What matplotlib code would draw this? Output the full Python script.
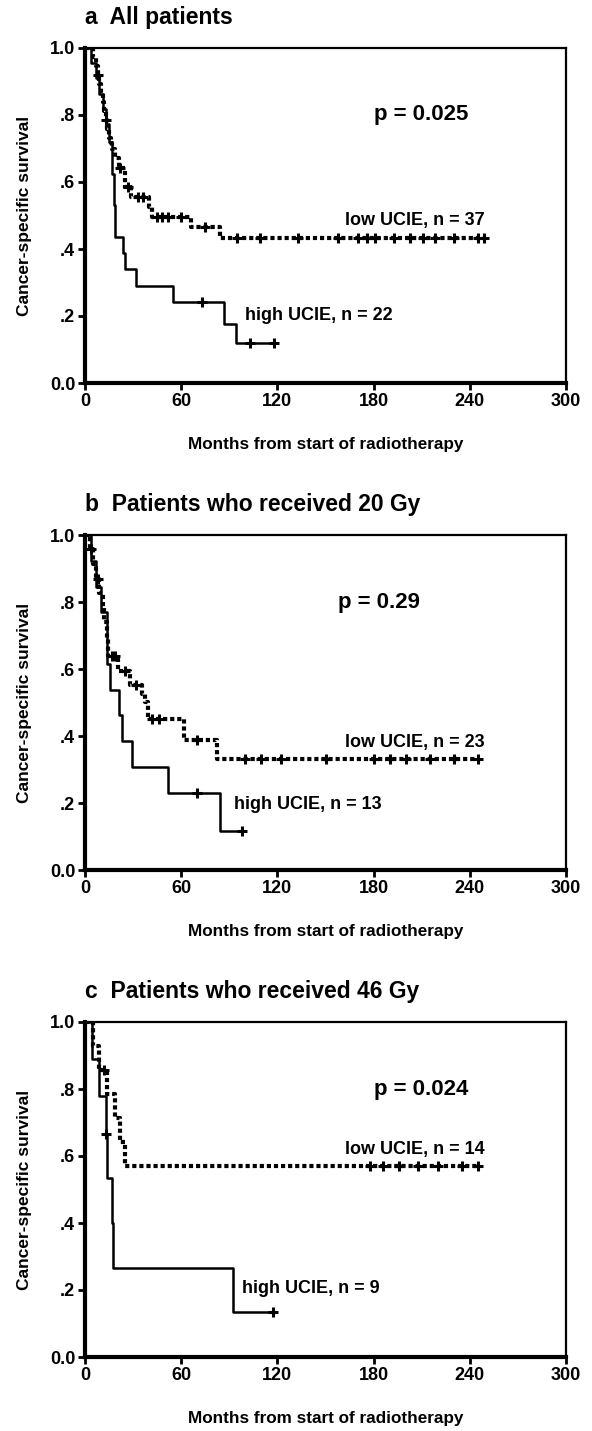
import numpy as np
import matplotlib.pyplot as plt

plt.rcParams['font.family'] = ['Liberation Sans', 'DejaVu Sans']
plt.rcParams['font.weight'] = 'bold'

# a  All patients
a_low_t = [0, 5, 7, 8, 9, 10, 11, 12, 13, 14, 15, 16, 17, 19, 21, 25, 29, 40, 42, 66, 84, 249]
a_low_s = [1.0, 0.973, 0.946, 0.919, 0.892, 0.865, 0.838, 0.811, 0.784, 0.757, 0.73, 0.715,
           0.699, 0.672, 0.643, 0.586, 0.556, 0.526, 0.497, 0.467, 0.432, 0.432]
a_low_cens = [8, 13, 22, 27, 33, 36, 45, 48, 52, 60, 75, 95, 109, 133, 158, 170, 176, 181,
              193, 203, 211, 218, 230, 245, 249]
a_high_t = [0, 4, 7, 9, 11, 13, 15, 17, 18, 18.75, 23.4, 25, 32, 55, 87, 94, 118]
a_high_s = [1.0, 0.955, 0.909, 0.864, 0.818, 0.773, 0.72, 0.625, 0.53, 0.437, 0.388, 0.34,
            0.291, 0.241, 0.177, 0.12, 0.12]
a_high_cens = [73, 103, 118]

# b  Patients who received 20 Gy
b_low_t = [0, 3, 5, 7, 9, 11, 12, 13.5, 14.6, 20.8, 28, 35.4, 37.5, 39.6, 61.5, 82.3, 245]
b_low_s = [1.0, 0.957, 0.913, 0.87, 0.826, 0.783, 0.739, 0.689, 0.64, 0.595, 0.551, 0.526,
           0.501, 0.452, 0.388, 0.33, 0.33]
b_low_cens = [4, 8, 17, 19, 25, 32, 42, 46, 70, 100, 110, 122, 150, 180, 190, 200, 215, 230, 245]
b_high_t = [0, 4, 7, 10, 13.5, 15.6, 21.5, 22.9, 29.2, 52, 84, 98]
b_high_s = [1.0, 0.923, 0.846, 0.769, 0.615, 0.538, 0.462, 0.385, 0.308, 0.231, 0.115, 0.115]
b_high_cens = [70, 98]

# c  Patients who received 46 Gy
c_low_t = [0, 5, 9, 14, 19, 22, 25, 245]
c_low_s = [1.0, 0.929, 0.857, 0.786, 0.714, 0.643, 0.571, 0.571]
c_low_cens = [12, 178, 186, 196, 208, 220, 235, 245]
c_high_t = [0, 4.2, 8.75, 13.1, 14, 16.6, 17.3, 92.3, 117]
c_high_s = [1.0, 0.889, 0.778, 0.667, 0.533, 0.4, 0.267, 0.133, 0.133]
c_high_cens = [13.1, 117]

titles = ['a  All patients', 'b  Patients who received 20 Gy', 'c  Patients who received 46 Gy']
p_texts = ['p = 0.025', 'p = 0.29', 'p = 0.024']
low_labels = ['low UCIE, n = 37', 'low UCIE, n = 23', 'low UCIE, n = 14']
high_labels = ['high UCIE, n = 22', 'high UCIE, n = 13', 'high UCIE, n = 9']

panels = [
    (a_low_t, a_low_s, a_low_cens, a_high_t, a_high_s, a_high_cens),
    (b_low_t, b_low_s, b_low_cens, b_high_t, b_high_s, b_high_cens),
    (c_low_t, c_low_s, c_low_cens, c_high_t, c_high_s, c_high_cens),
]
# text anchors (months, survival)
p_pos = [(180, 0.80), (158, 0.80), (180, 0.80)]
low_pos = [(249, 0.485), (249, 0.38), (249, 0.62)]
high_pos = [(100, 0.20), (93, 0.195), (98, 0.204)]


def surv_at(t, s, tc):
    idx = np.searchsorted(t, tc, side='right') - 1
    return np.asarray(s)[idx]


W, H = 592, 1431
fig = plt.figure(figsize=(W / 100, H / 100), dpi=100)
bottoms = [383, 870, 1357]

for i, (lt, ls, lc, ht, hs, hc) in enumerate(panels):
    ax = fig.add_axes([85 / W, 1 - bottoms[i] / H, 481 / W, 335 / H])

    ax.step(lt, ls, where='post', color='black', lw=3.0,
            linestyle=(0, (1.0, 0.7)), dash_capstyle='butt')
    ax.plot(lc, surv_at(lt, ls, lc), '+', color='black', ms=7, mew=2.2)
    ax.step(ht, hs, where='post', color='black', lw=1.8)
    ax.plot(hc, surv_at(ht, hs, hc), '+', color='black', ms=7, mew=2.2)

    ax.set_xlim(0, 300)
    ax.set_ylim(0, 1)
    ax.set_xticks([0, 60, 120, 180, 240, 300])
    ax.set_yticks([0, 0.2, 0.4, 0.6, 0.8, 1.0])
    ax.set_yticklabels(['0.0', '.2', '.4', '.6', '.8', '1.0'])
    ax.tick_params(direction='out', length=5, width=2, labelsize=13, pad=2)
    for side in ['left', 'bottom']:
        ax.spines[side].set_linewidth(3.0)
    for side in ['top', 'right']:
        ax.spines[side].set_linewidth(1.6)

    ax.text(0.0, 1.09, titles[i], transform=ax.transAxes, fontsize=16.5,
            ha='left', va='center')
    ax.text(-0.125, 0.5, 'Cancer-specific survival', transform=ax.transAxes,
            rotation=90, fontsize=12.5, ha='center', va='center')
    ax.text(0.5, -0.185, 'Months from start of radiotherapy', transform=ax.transAxes,
            fontsize=12.3, ha='center', va='center')

    ax.text(p_pos[i][0], p_pos[i][1], p_texts[i], fontsize=16, ha='left', va='center')
    ax.text(low_pos[i][0], low_pos[i][1], low_labels[i], fontsize=13, ha='right', va='center')
    ax.text(high_pos[i][0], high_pos[i][1], high_labels[i], fontsize=13, ha='left', va='center')

plt.savefig('out.png', dpi=100)
